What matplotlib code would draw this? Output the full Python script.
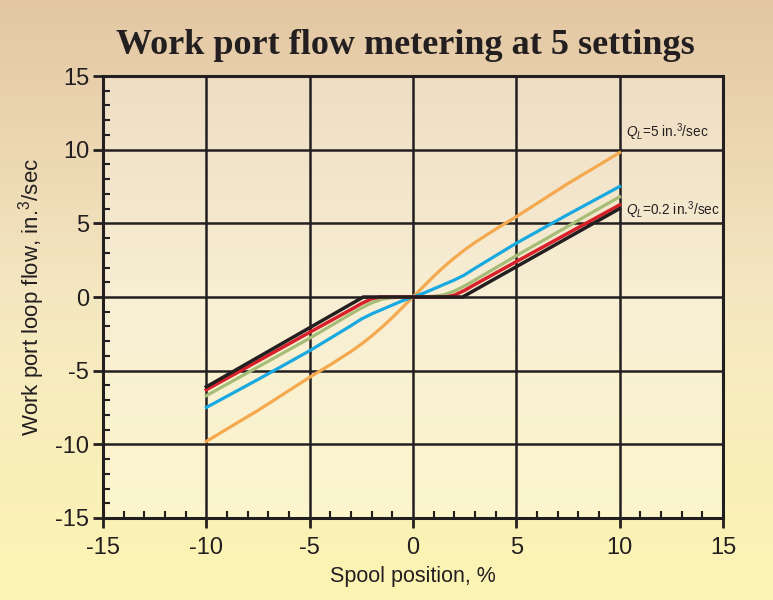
import numpy as np
import matplotlib
matplotlib.use("Agg")
import matplotlib.pyplot as plt
from matplotlib.ticker import MultipleLocator

# curve data (spool position %, flow in^3/sec)
x_black = [-10, -2.4, 2.4, 10]
y_black = [-6.1, 0, 0, 6.0]

x_red = [-10, -5, -3, -2.5, -2, -1.6, 1.6, 2, 2.5, 3, 5, 10]
y_red = [-6.3, -2.4, -0.85, -0.45, -0.12, 0, 0, 0.12, 0.45, 0.85, 2.4, 6.25]

x_green = [-10, -5, -3, -2.5, -2, -1.5, -1, -0.5, 0, 0.5, 1, 1.5, 2, 2.5, 3, 5, 10]
y_green = [-6.7, -2.8, -1.15, -0.75, -0.4, -0.15, -0.05, -0.01, 0,
           0.01, 0.05, 0.15, 0.4, 0.75, 1.15, 2.8, 6.8]

x_blue = [-10, -7.5, -5, -3, -2.5, -2, -1.5, -1, -0.5, 0,
          0.5, 1, 1.5, 2, 2.5, 3, 5, 7.5, 10]
y_blue = [-7.5, -5.6, -3.65, -1.95, -1.5, -1.15, -0.85, -0.55, -0.25, 0,
          0.25, 0.55, 0.85, 1.15, 1.5, 1.95, 3.65, 5.6, 7.5]

x_orange = [-10, -7.5, -5, -4, -3, -2.5, -2, -1.5, -1, -0.5, 0,
            0.5, 1, 1.5, 2, 2.5, 3, 4, 5, 7.5, 10]
y_orange = [-9.8, -7.7, -5.45, -4.6, -3.7, -3.2, -2.65, -2.05, -1.4, -0.7, 0,
            0.7, 1.4, 2.05, 2.65, 3.2, 3.7, 4.6, 5.45, 7.7, 9.8]

xticks = [-15, -10, -5, 0, 5, 10, 15]
yticks = [-15, -10, -5, 0, 5, 10, 15]

plt.rcParams["font.family"] = ["Liberation Sans", "DejaVu Sans"]
plt.rcParams["axes.unicode_minus"] = False
plt.rcParams["mathtext.fontset"] = "custom"
plt.rcParams["mathtext.rm"] = "Liberation Sans"
plt.rcParams["mathtext.it"] = "Liberation Sans:italic"

ink = "#231f20"

fig = plt.figure(figsize=(7.73, 6.0), dpi=100)

# background gradient, tan at the top to pale yellow at the bottom
bg = fig.add_axes([0, 0, 1, 1], zorder=-10)
top = np.array([0.89, 0.78, 0.64])
mid = np.array([0.96, 0.91, 0.76])
bot = np.array([0.99, 0.96, 0.70])
t = np.linspace(0, 1, 300)[:, None]
grad = np.where(t < 0.5, top + (mid - top) * (t / 0.5), mid + (bot - mid) * ((t - 0.5) / 0.5))
bg.imshow(grad[:, None, :], aspect="auto", extent=[0, 1, 0, 1])
bg.axis("off")

ax = fig.add_axes([0.1332, 0.1367, 0.802, 0.7366])
ax.set_facecolor((1, 1, 1, 0.3))

ax.plot(x_orange, y_orange, color="#f5a94e", lw=2.3, zorder=3)
ax.plot(x_blue, y_blue, color="#19a9e1", lw=2.3, zorder=4)
ax.plot(x_green, y_green, color="#a6bd78", lw=2.3, zorder=5)
ax.plot(x_red, y_red, color="#d8202a", lw=2.5, zorder=6)
ax.plot(x_black, y_black, color=ink, lw=2.5, zorder=7)

ax.set_xlim(-15, 15)
ax.set_ylim(-15, 15)
ax.set_xticks(xticks)
ax.set_yticks(yticks)
ax.xaxis.set_minor_locator(MultipleLocator(1))
ax.yaxis.set_minor_locator(MultipleLocator(1))
ax.tick_params(which="major", direction="out", length=7, width=2, color=ink,
               labelsize=17, labelcolor=ink, pad=3)
ax.tick_params(which="minor", direction="in", length=5, width=1.5, color=ink)
ax.tick_params(axis="x", which="major", pad=7)

for s in ax.spines.values():
    s.set_linewidth(2.2)
    s.set_color(ink)

ax.grid(True, which="major", color=ink, lw=1.8, zorder=1)
ax.set_axisbelow(True)

ax.set_xlabel("Spool position, %", fontsize=15.5, color=ink, labelpad=5)
ax.set_ylabel("Work port loop flow, in.$^3$/sec", fontsize=16, color=ink, labelpad=6)

ax.text(10.3, 11.2, "$Q_L$=5 in.$^3$/sec", fontsize=9.8, color=ink, va="center")
ax.text(10.3, 5.9, "$Q_L$=0.2 in.$^3$/sec", fontsize=9.8, color=ink, va="center")

fig.text(0.525, 0.925, "Work port flow metering at 5 settings", fontsize=26,
         fontweight="bold", family="Liberation Serif", color=ink,
         ha="center", va="center")

fig.savefig("out.png", dpi=100)
